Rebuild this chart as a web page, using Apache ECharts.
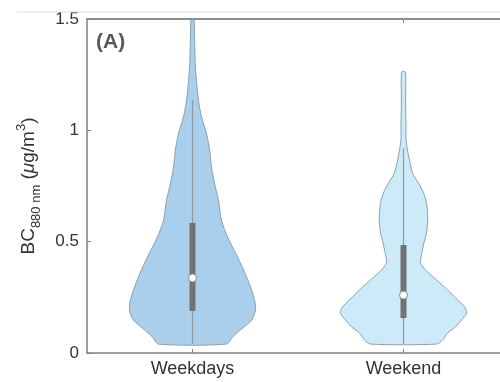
<!DOCTYPE html>
<html>
<head>
<meta charset="utf-8">
<script src="https://cdn.jsdelivr.net/npm/echarts@6/dist/echarts.min.js"></script>
<style>
  html, body { margin: 0; padding: 0; background: #ffffff; }
  #chart { width: 500px; height: 382px; }
</style>
</head>
<body>
<div id="chart"></div>
<script>
// groups, placed at x = 1, 2 (the plot continues past the right edge)
const categories = ['Weekdays', 'Weekend'];
const categoryPos = [1, 2];
const yTicks = [0, 0.5, 1, 1.5];

// violin outlines: level (µg/m3) and half width (fraction of one group slot)
const weekdaysLevels = [0.040, 0.072, 0.103, 0.148, 0.193, 0.238, 0.296, 0.373, 0.449, 0.521,
  0.597, 0.687, 0.763, 0.835, 0.912, 0.988, 1.060, 1.136, 1.284, 1.437, 1.495];
const weekdaysDensity = [0.161, 0.190, 0.227, 0.280, 0.299, 0.294, 0.275, 0.242, 0.204, 0.166,
  0.137, 0.123, 0.104, 0.090, 0.081, 0.066, 0.043, 0.028, 0.014, 0.009, 0.007];

const weekendLevels = [0.040, 0.058, 0.090, 0.117, 0.148, 0.180, 0.207, 0.238, 0.283, 0.328,
  0.373, 0.404, 0.431, 0.463, 0.507, 0.539, 0.584, 0.629, 0.674, 0.719, 0.763, 0.808,
  0.867, 0.912, 0.957, 1.015, 1.136, 1.262];
const weekendDensity = [0.156, 0.185, 0.209, 0.246, 0.275, 0.299, 0.289, 0.256, 0.209, 0.156,
  0.104, 0.081, 0.083, 0.090, 0.100, 0.109, 0.114, 0.114, 0.109, 0.095, 0.071, 0.043,
  0.028, 0.019, 0.012, 0.012, 0.010, 0.009];

// box stats: [whisker low, q1, median, q3, whisker high]
const weekdaysStats = [0.04, 0.189, 0.337, 0.584, 1.136];
const weekendStats = [0.04, 0.157, 0.26, 0.485, 0.92];

const violins = [
  { levels: weekdaysLevels, density: weekdaysDensity, stats: weekdaysStats, fill: '#aacfec' },
  { levels: weekendLevels, density: weekendDensity, stats: weekendStats, fill: '#cdeaf9' },
];

function renderViolin(params, api) {
  const x = api.value(0);
  const v = violins[params.dataIndex];
  const unit = api.size([1, 0])[0];
  const left = [];
  const right = [];
  for (let i = 0; i < v.levels.length; i++) {
    const p = api.coord([x, v.levels[i]]);
    const hw = v.density[i] * unit;
    left.push([p[0] - hw, p[1]]);
    right.push([p[0] + hw, p[1]]);
  }
  const outline = left.concat(right.reverse());
  const s = v.stats;
  const lo = api.coord([x, s[0]]);
  const q1 = api.coord([x, s[1]]);
  const med = api.coord([x, s[2]]);
  const q3 = api.coord([x, s[3]]);
  const hi = api.coord([x, s[4]]);
  return {
    type: 'group',
    children: [
      {
        type: 'polygon',
        shape: { points: outline, smooth: 0.25 },
        style: { fill: v.fill, stroke: '#8c9fb0', lineWidth: 1 },
      },
      {
        type: 'line',
        shape: { x1: lo[0], y1: lo[1], x2: hi[0], y2: hi[1] },
        style: { stroke: '#8d9aa6', lineWidth: 1.2 },
      },
      {
        type: 'rect',
        shape: { x: q3[0] - 3, y: q3[1], width: 6, height: q1[1] - q3[1] },
        style: { fill: '#737373' },
      },
      {
        type: 'circle',
        shape: { cx: med[0], cy: med[1], r: 4 },
        style: { fill: '#ffffff', stroke: '#8a8a8a', lineWidth: 1 },
      },
    ],
  };
}

const chart = echarts.init(document.getElementById('chart'));
chart.setOption({
  animation: false,
  backgroundColor: '#ffffff',
  textStyle: { fontFamily: 'Liberation Sans, Arial, sans-serif' },
  graphic: [
    {
      type: 'line',
      shape: { x1: 17, y1: 12, x2: 500, y2: 12 },
      style: { stroke: '#dcdcdc', lineWidth: 1 },
      z: 100,
    },
    {
      type: 'text',
      left: 96,
      top: 32,
      style: { text: '(A)', fontSize: 21, fontWeight: 'bold', fill: '#595959', fontFamily: 'Liberation Sans, Arial, sans-serif' },
      z: 100,
    },
  ],
  grid: {
    left: 87,
    top: 19,
    right: 0,
    height: 334,
  },
  xAxis: [
    {
      type: 'value',
      min: 0.5,
      max: 0.5 + 413 / 211,
      position: 'bottom',
      axisLine: { lineStyle: { color: '#808080', width: 1.5 } },
      axisTick: { inside: true, length: 4, customValues: categoryPos, lineStyle: { color: '#808080' } },
      axisLabel: {
        fontSize: 18,
        color: '#333333',
        margin: 7,
        customValues: categoryPos,
        formatter: (val) => categories[categoryPos.indexOf(val)] || '',
      },
      splitLine: { show: false },
    },
    {
      type: 'value',
      min: 0.5,
      max: 0.5 + 413 / 211,
      position: 'top',
      axisLine: { show: true, lineStyle: { color: '#8c8c8c', width: 2 } },
      axisTick: { show: true, inside: true, length: 4, customValues: categoryPos, lineStyle: { color: '#808080' } },
      axisLabel: { show: false },
      splitLine: { show: false },
    },
  ],
  yAxis: {
    type: 'value',
    min: yTicks[0],
    max: yTicks[yTicks.length - 1],
    interval: 0.5,
    axisLine: { show: true, lineStyle: { color: '#808080', width: 1.5 } },
    axisTick: { show: true, inside: true, length: 4, lineStyle: { color: '#808080' } },
    axisLabel: { fontSize: 17, color: '#333333', margin: 8 },
    splitLine: { show: false },
    name: '{m|BC}{s|880 nm}{g| (}{u|μ}{g|g/m}{p|3}{g|)}',
    nameLocation: 'middle',
    nameRotate: 90,
    nameGap: 44,
    nameTextStyle: {
      rich: {
        m: { fontSize: 19, color: '#333333', lineHeight: 28, verticalAlign: 'middle' },
        s: { fontSize: 13, color: '#333333', lineHeight: 13, verticalAlign: 'bottom' },
        g: { fontSize: 19, color: '#333333', lineHeight: 28, verticalAlign: 'middle' },
        u: { fontSize: 19, color: '#333333', lineHeight: 28, verticalAlign: 'middle', fontStyle: 'italic' },
        p: { fontSize: 13, color: '#333333', lineHeight: 13, verticalAlign: 'top' },
      },
    },
  },
  series: [
    {
      type: 'custom',
      renderItem: renderViolin,
      data: [[categoryPos[0]], [categoryPos[1]]],
      encode: { x: 0 },
      clip: false,
    },
  ],
});
</script>
</body>
</html>
